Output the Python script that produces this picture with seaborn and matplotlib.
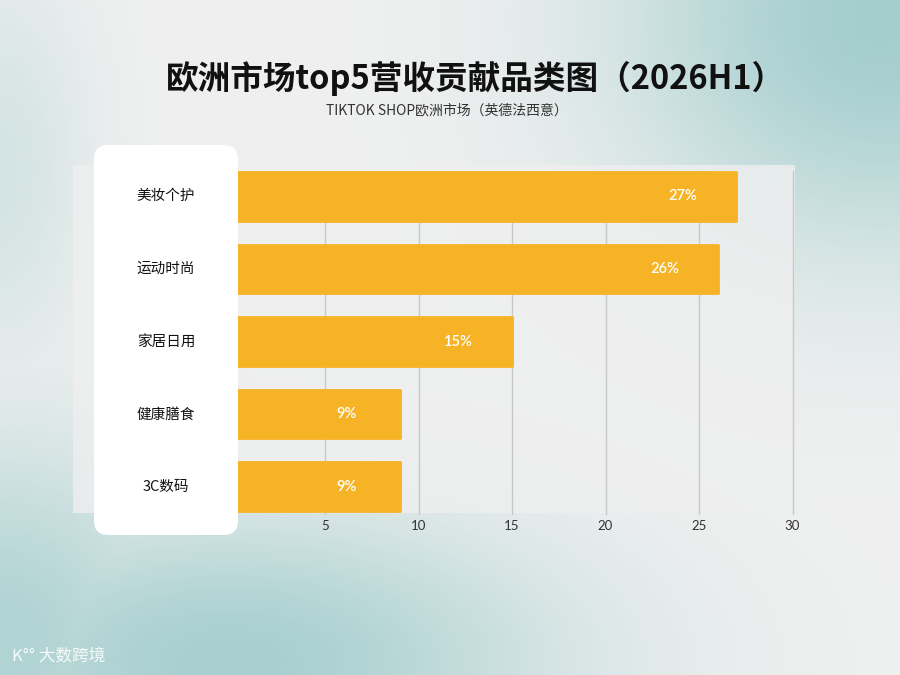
import numpy as np
import pandas as pd
import matplotlib
matplotlib.use("Agg")
import matplotlib.pyplot as plt
import seaborn as sns
from matplotlib.patches import FancyBboxPatch, Rectangle

# data
categories = ["美妆个护", "运动时尚", "家居日用", "健康膳食", "3C数码"]
shares = [27, 26, 15, 9, 9]
share_labels = ["27%", "26%", "15%", "9%", "9%"]
ticks = [5, 10, 15, 20, 25, 30]

df = pd.DataFrame({"category": categories, "share": shares})

sns.set_theme(style="white")
plt.rcParams['font.family'] = ['Noto Sans CJK SC', 'DejaVu Sans']

W, H = 900, 675
fig = plt.figure(figsize=(9, 6.75), dpi=100)

# background with soft teal blobs
bg = fig.add_axes([0, 0, 1, 1])
yy, xx = np.mgrid[0:H, 0:W]
base = np.array([240, 240, 240]) / 255
teal = np.array([160, 204, 204]) / 255
w = np.zeros((H, W))
for cx, cy, rx, ry, a in [(880, 20, 260, 230, 0.95), (230, 660, 330, 150, 0.9),
                          (0, 640, 200, 200, 0.8), (0, 170, 90, 200, 0.35)]:
    w = np.maximum(w, a * np.exp(-(((xx - cx) / rx) ** 2 + ((yy - cy) / ry) ** 2)))
img = base[None, None, :] * (1 - w[..., None]) + teal[None, None, :] * w[..., None]
bg.imshow(img, extent=[0, W, H, 0], aspect="auto")
bg.set_xlim(0, W)
bg.set_ylim(H, 0)
bg.axis("off")

# light card behind plot
bg.add_patch(Rectangle((73, 165), 722, 348, facecolor="#efefef", edgecolor="none", alpha=0.8))

# chart axes
x0 = 231.5
px_per = 18.7
xmax = 30.5
ax = fig.add_axes([x0 / W, 1 - 523 / H, xmax * px_per / W, (523 - 160) / H])
ax.patch.set_alpha(0)
sns.barplot(data=df, x="share", y="category", color="#F5B325", width=0.67,
            saturation=1, ax=ax, zorder=3)
for p in ax.patches:
    p.set_edgecolor("#F5B325")
    p.set_linewidth(2)
    p.set_joinstyle("round")
ax.set_xlim(0, xmax)
ax.set_ylim(4.5, -0.5)
for t in ticks:
    ax.axvline(t, ymin=0.025, ymax=0.97, color="#c8c8c8", lw=1, zorder=1)
ax.set_xticks(ticks)
ax.set_xticklabels([str(t) for t in ticks], fontsize=9.5, color="#333333", family="Lato")
ax.tick_params(axis="x", length=0, pad=-2)
ax.set_yticks([])
ax.set_xlabel("")
ax.set_ylabel("")
sns.despine(ax=ax, left=True, bottom=True)

for i, (v, lab) in enumerate(zip(shares, share_labels)):
    ax.text(v - 2.85, i, lab, ha="center", va="center", color="white",
            fontsize=10.5, fontweight="semibold", family="Lato", zorder=4)

# white label panel sits on top of the bar starts
fig.add_artist(FancyBboxPatch((94 / W, 1 - 535 / H), 144 / W, 390 / H,
                              boxstyle="round,pad=0,rounding_size=0.016",
                              mutation_aspect=W / H,
                              transform=fig.transFigure, facecolor="white",
                              edgecolor="none", zorder=2))
for i, c in enumerate(categories):
    fig.text(166 / W, 1 - (196 + i * 72.8) / H, c, ha="center", va="center",
             fontsize=10.5, color="#111111", zorder=3)

# titles
bg.text(475, 78, "欧洲市场top5营收贡献品类图（2026H1）", ha="center", va="center",
        fontsize=23.5, fontweight="bold", color="#111111")
bg.text(447, 110, "TIKTOK SHOP欧洲市场（英德法西意）", ha="center", va="center",
        fontsize=10, color="#333333")

# watermark
bg.text(12, 657, "K°° 大数跨境", ha="left", va="center", fontsize=12,
        color="white", alpha=0.9)

fig.savefig("out.png", dpi=100)
